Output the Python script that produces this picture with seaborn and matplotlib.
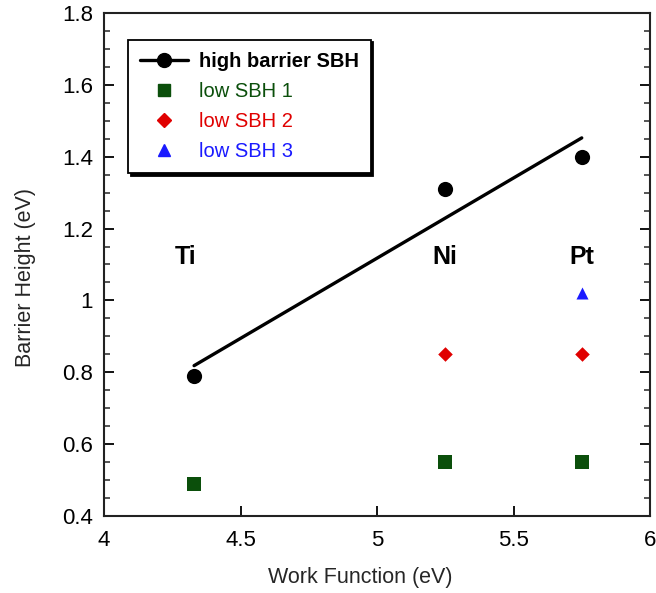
import numpy as np
import pandas as pd
import matplotlib
matplotlib.use("Agg")
import matplotlib.pyplot as plt
from matplotlib.lines import Line2D
from matplotlib.ticker import MultipleLocator
import seaborn as sns

# Metal work functions (eV) and measured barrier heights (eV)
metals = ["Ti", "Ni", "Pt"]
work_function = [4.33, 5.25, 5.75]
high_sbh = [0.79, 1.31, 1.40]

low1_wf = [4.33, 5.25, 5.75]
low1_sbh = [0.49, 0.55, 0.55]

low2_wf = [5.25, 5.75]
low2_sbh = [0.85, 0.85]

low3_wf = [5.75]
low3_sbh = [1.02]

label_y = 1.12

sns.set_theme(style="ticks")
plt.rcParams["font.family"] = ["Liberation Sans", "DejaVu Sans"]

fig = plt.figure(figsize=(6.56, 5.93), dpi=100)
ax = fig.add_axes([104 / 656, 1 - 516 / 593, 546 / 656, 503 / 593])

green = "#0b4f0b"
red = "#e00000"
blue = "#1a1aff"

# Linear fit through the high-barrier points
slope, intercept = np.polyfit(work_function, high_sbh, 1)
fit_x = [min(work_function), max(work_function)]
fit_df = pd.DataFrame({"wf": fit_x, "sbh": [slope * x + intercept for x in fit_x]})
sns.lineplot(data=fit_df, x="wf", y="sbh", color="black", linewidth=2.4, ax=ax)

high_df = pd.DataFrame({"wf": work_function, "sbh": high_sbh})
sns.scatterplot(data=high_df, x="wf", y="sbh", marker="o", s=120, color="black",
                edgecolor="black", linewidth=0, ax=ax, zorder=3)

sns.scatterplot(data=pd.DataFrame({"wf": low1_wf, "sbh": low1_sbh}), x="wf", y="sbh",
                marker="s", s=100, color=green, edgecolor=green, linewidth=0, ax=ax, zorder=3)
sns.scatterplot(data=pd.DataFrame({"wf": low2_wf, "sbh": low2_sbh}), x="wf", y="sbh",
                marker="D", s=55, color=red, edgecolor=red, linewidth=0, ax=ax, zorder=3)
sns.scatterplot(data=pd.DataFrame({"wf": low3_wf, "sbh": low3_sbh}), x="wf", y="sbh",
                marker="^", s=75, color=blue, edgecolor=blue, linewidth=0, ax=ax, zorder=3)

for name, x in zip(metals, work_function):
    ax.text(x - (0.03 if name == "Ti" else 0.0), label_y, name, ha="center", va="center",
            fontsize=18, fontweight="bold", color="black")

ax.set_xlim(4, 6)
ax.set_ylim(0.4, 1.8)
ax.yaxis.set_minor_locator(MultipleLocator(0.05))
ax.set_xticks([4, 4.5, 5, 5.5, 6])
ax.set_xticklabels(["4", "4.5", "5", "5.5", "6"])
ax.set_yticks([0.4, 0.6, 0.8, 1.0, 1.2, 1.4, 1.6, 1.8])
ax.set_yticklabels(["0.4", "0.6", "0.8", "1", "1.2", "1.4", "1.6", "1.8"])
ax.tick_params(axis="both", which="major", direction="in", length=7, width=1.3,
               labelsize=16, colors="black")
ax.tick_params(axis="x", which="major", pad=10)
ax.tick_params(axis="y", which="major", pad=8)
ax.tick_params(axis="y", which="both", right=True, direction="in")
ax.tick_params(axis="y", which="minor", length=4, width=1.1)
for side in ["left", "right", "top", "bottom"]:
    ax.spines[side].set_visible(True)
    ax.spines[side].set_linewidth(1.5)
    ax.spines[side].set_color("#222222")

ax.set_xlabel("Work Function (eV)", fontsize=15.5)
ax.set_ylabel("Barrier Height (eV)", fontsize=15.5)
ax.xaxis.set_label_coords(0.469, -0.101)
ax.yaxis.set_label_coords(-0.125, 0.475)

handles = [
    Line2D([], [], color="black", linewidth=2.4, marker="o", markersize=10),
    Line2D([], [], linestyle="none", marker="s", markersize=9, color=green),
    Line2D([], [], linestyle="none", marker="D", markersize=7, color=red),
    Line2D([], [], linestyle="none", marker="^", markersize=8, color=blue),
]
labels = ["high barrier SBH", "low SBH 1", "low SBH 2", "low SBH 3"]
leg = ax.legend(handles, labels, loc="upper left", bbox_to_anchor=(0.044, 0.947),
                frameon=True, fancybox=False, shadow={"color": "black", "alpha": 1},
                fontsize=14.5, handlelength=2.4, borderpad=0.6, labelspacing=0.55,
                handletextpad=0.5, borderaxespad=0)
leg.get_frame().set_edgecolor("black")
leg.get_frame().set_linewidth(1.3)
for txt, col in zip(leg.get_texts(), ["black", green, red, blue]):
    txt.set_color(col)
leg.get_texts()[0].set_fontweight("bold")

fig.savefig("out.png", dpi=100)
